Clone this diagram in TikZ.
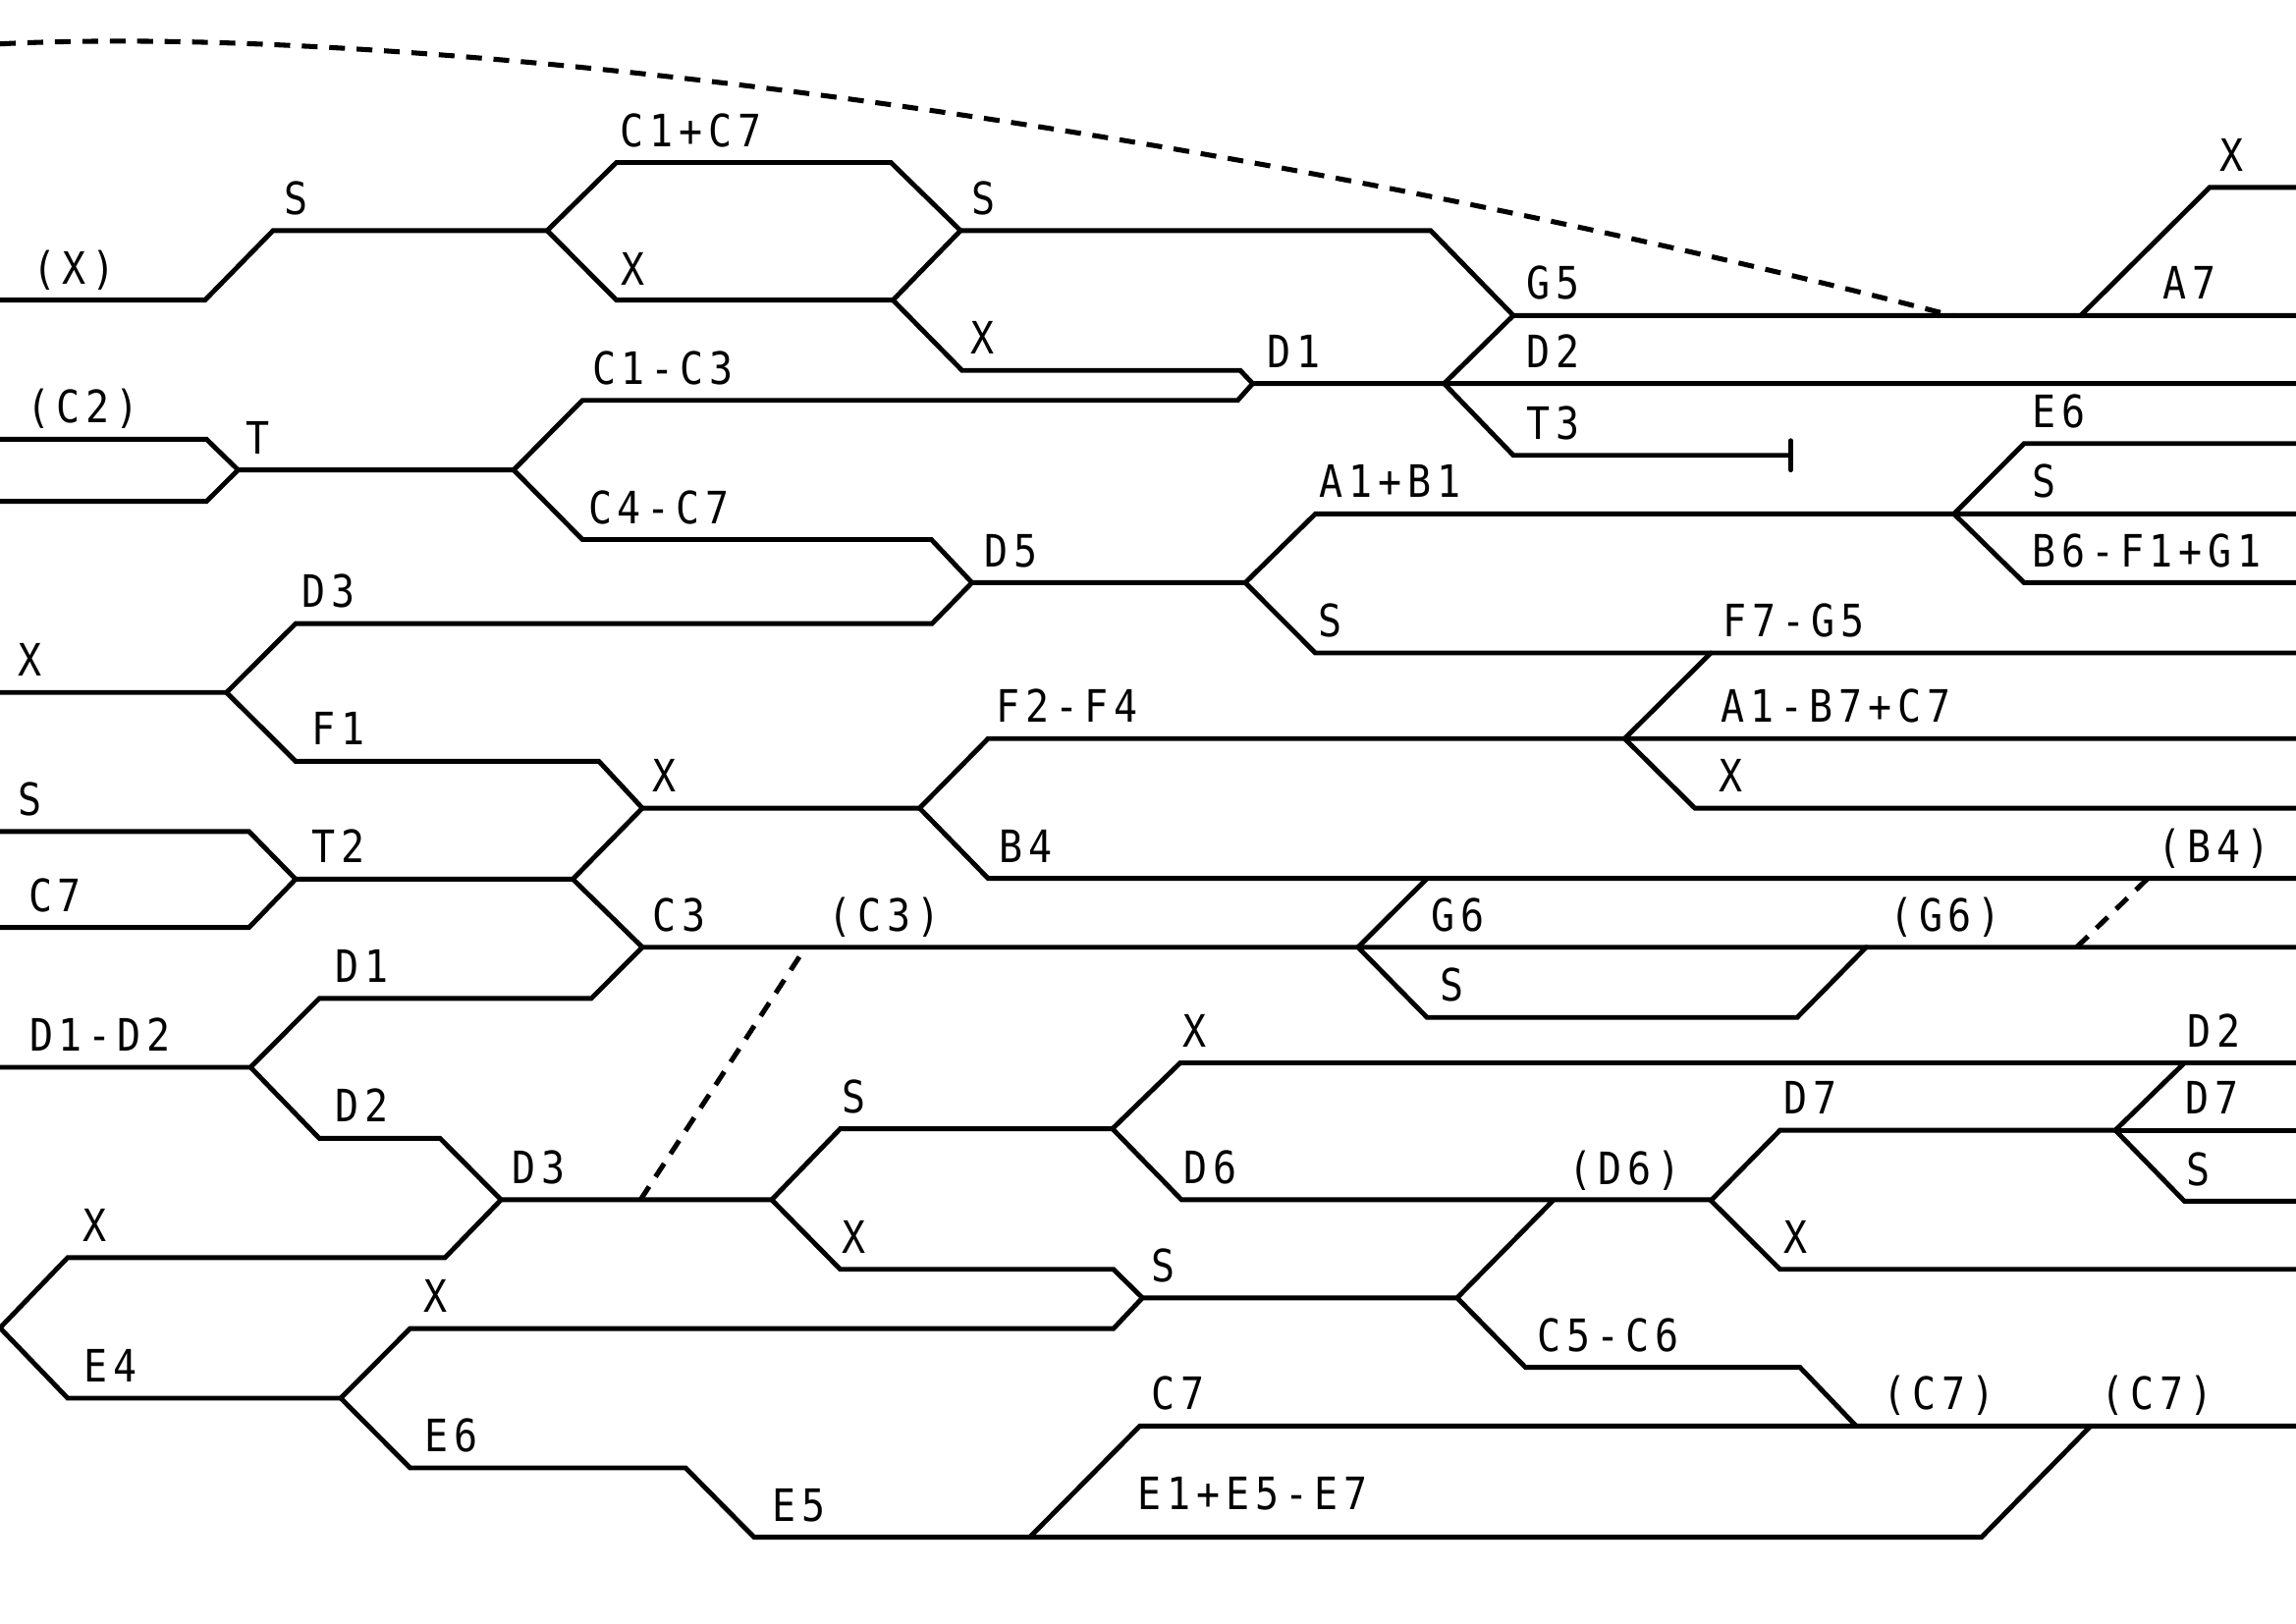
\documentclass[tikz,border=0pt]{standalone}
\usepackage{fontspec}
\usepackage{tikz}
\newfontfamily\trackfont[FakeStretch=0.88,LetterSpace=13]{DejaVu Sans Mono}

\begin{document}
\begin{tikzpicture}[x=0.15mm,y=-0.15mm,
  track/.style={line width=1.4pt,line cap=round},
  link/.style={line width=1.45pt,dash pattern=on 4.6pt off 3.4pt},
  lbl/.style={font=\trackfont\fontsize{13pt}{15pt}\selectfont,anchor=base,inner sep=0pt}]
\useasboundingbox (0,0) rectangle (1568,1109);
\draw[link] (0,30) .. controls (300,15) and (850,90) .. (1333,215.5);
\draw[link] (437.4,819.5) -- (550.2,647);
\draw[link] (1418.2,647) -- (1466.8,600);
\draw[track] (0,205) -- (140,205) -- (186.5,157.5) -- (373.7,157.5);
\draw[track] (373.7,157.5) -- (421,111) -- (608.4,111) -- (656,157.5) -- (609.8,205) -- (421,205) -- cycle;
\draw[track] (656,157.5) -- (977,157.5) -- (1033.5,215.5) -- (1568,215.5);
\draw[track] (609.8,205) -- (657,253) -- (847,253) -- (855.5,262) -- (1568,262);
\draw[track] (855.5,262) -- (845.2,273.5) -- (397.7,273.5) -- (350.8,321) -- (162.6,321);
\draw[track] (986.2,262) -- (1033.5,215.5);
\draw[track] (986.2,262) -- (1033.5,311) -- (1223,311);
\draw[track] (1223,301) -- (1223,321);
\draw[track] (1421,215.5) -- (1509,128) -- (1568,128);
\draw[track] (0,300) -- (141,300) -- (162.6,321) -- (141,342.5) -- (0,342.5);
\draw[track] (350.8,321) -- (397.7,368.5) -- (636,368.5) -- (663.8,398) -- (850.4,398);
\draw[track] (0,473) -- (154.7,473) -- (201.9,426) -- (636.5,426) -- (663.8,398);
\draw[track] (850.4,398) -- (898.3,351) -- (1568,351);
\draw[track] (850.4,398) -- (898.3,446) -- (1568,446);
\draw[track] (1334.4,351) -- (1382.3,303) -- (1568,303);
\draw[track] (1334.4,351) -- (1382.3,398) -- (1568,398);
\draw[track] (154.7,473) -- (201.9,520) -- (409,520) -- (438.7,552) -- (628,552);
\draw[track] (628,552) -- (674.8,504.5) -- (1568,504.5);
\draw[track] (628,552) -- (674.8,600) -- (1568,600);
\draw[track] (1109.5,504.5) -- (1168.4,446);
\draw[track] (1109.5,504.5) -- (1157.4,552) -- (1568,552);
\draw[track] (0,568) -- (170.1,568) -- (201.9,600.5) -- (170.1,633.5) -- (0,633.5);
\draw[track] (201.9,600.5) -- (391.2,600.5) -- (438.7,552);
\draw[track] (391.2,600.5) -- (438.7,647) -- (1568,647);
\draw[track] (927.4,647) -- (974.6,600);
\draw[track] (927.4,647) -- (974.6,695) -- (1227.3,695) -- (1274.5,647);
\draw[track] (438.7,647) -- (403.8,682) -- (218,682) -- (171.1,729) -- (0,729);
\draw[track] (171.1,729) -- (218,777.5) -- (300.5,777.5) -- (342.2,819.5) -- (527,819.5);
\draw[track] (342.2,819.5) -- (303.9,859) -- (46.2,859) -- (0,907) -- (46.2,955) -- (232.7,955);
\draw[track] (232.7,955) -- (280,907.5) -- (760.4,907.5) -- (780.2,886.5) -- (760.4,867) -- (573.8,867) -- (527,819.5);
\draw[track] (527,819.5) -- (573.8,771) -- (759.7,771) -- (806.9,819.5) -- (1168.4,819.5);
\draw[track] (759.7,771) -- (806,726) -- (1568,726);
\draw[track] (780.2,886.5) -- (995.1,886.5) -- (1060.6,820);
\draw[track] (995.1,886.5) -- (1041.8,934) -- (1229.3,934) -- (1267.6,974);
\draw[track] (232.7,955) -- (280,1002.6) -- (468.2,1002.6) -- (515,1050) -- (1353.2,1050) -- (1427.8,974);
\draw[track] (703.2,1050) -- (778.5,974) -- (1568,974);
\draw[track] (1168.4,820) -- (1215.6,772) -- (1444.6,772) -- (1491.8,726);
\draw[track] (1444.6,772) -- (1568,772);
\draw[track] (1444.6,772) -- (1491.8,820.5) -- (1568,820.5);
\draw[track] (1168.4,820) -- (1215.6,867) -- (1568,867);
\node[lbl] (px1) at (50.6,194) {(X)};
\node[lbl] (s1) at (202,146.5) {S};
\node[lbl] (c1c7) at (472,100) {C1+C7};
\node[lbl] (x1) at (432,194.5) {X};
\node[lbl] (pc2) at (56.5,289) {(C2)};
\node[lbl] (t1) at (176,310) {T};
\node[lbl] (c1c3) at (452.7,262.5) {C1-C3};
\node[lbl] (c4c7) at (450,357.5) {C4-C7};
\node[lbl] (s2) at (672,146.5) {S};
\node[lbl] (x2) at (670.7,242) {X};
\node[lbl] (d1a) at (883.6,251) {D1};
\node[lbl] (a1b1) at (949.6,340) {A1+B1};
\node[lbl] (d5) at (690.5,387) {D5};
\node[lbl] (x3) at (1524.3,117) {X};
\node[lbl] (g5) at (1060.6,204.5) {G5};
\node[lbl] (a7) at (1495.2,204.5) {A7};
\node[lbl] (d2a) at (1060.6,251) {D2};
\node[lbl] (t3) at (1060.6,300) {T3};
\node[lbl] (e6a) at (1406.2,292) {E6};
\node[lbl] (s3) at (1396,340) {S};
\node[lbl] (d3a) at (224.2,415) {D3};
\node[lbl] (x4) at (20.5,462) {X};
\node[lbl] (f1) at (231,509) {F1};
\node[lbl] (x5) at (453.5,541) {X};
\node[lbl] (s4) at (20.5,557) {S};
\node[lbl] (t2) at (231,589.5) {T2};
\node[lbl] (c7a) at (37.6,622.5) {C7};
\node[lbl] (c3) at (463.7,636) {C3};
\node[lbl] (d1b) at (247.1,671) {D1};
\node[lbl] (d1d2) at (68.4,718) {D1-D2};
\node[lbl] (s5) at (908.5,435) {S};
\node[lbl] (f2f4) at (728.9,493.5) {F2-F4};
\node[lbl] (b4) at (700.8,589) {B4};
\node[lbl] (pc3) at (604,636) {(C3)};
\node[lbl] (g6) at (995.8,636) {G6};
\node[lbl] (s6) at (991.7,684) {S};
\node[lbl] (x6) at (816.1,715) {X};
\node[lbl] (b6f1) at (1466.1,387) {B6-F1+G1};
\node[lbl] (f7g5) at (1224.9,435) {F7-G5};
\node[lbl] (a1b7) at (1253.9,493.5) {A1-B7+C7};
\node[lbl] (x7) at (1182.1,541) {X};
\node[lbl] (pb4) at (1512.3,589) {(B4)};
\node[lbl] (pg6) at (1328.6,636) {(G6)};
\node[lbl] (d2b) at (1512.3,715) {D2};
\node[lbl] (d2c) at (247.1,766.5) {D2};
\node[lbl] (d3b) at (367.9,808.5) {D3};
\node[lbl] (x8) at (65,848) {X};
\node[lbl] (x9) at (297.7,896) {X};
\node[lbl] (e4) at (75.3,944) {E4};
\node[lbl] (e6b) at (308,991.6) {E6};
\node[lbl] (e5) at (545.8,1039) {E5};
\node[lbl] (s7) at (583.4,760) {S};
\node[lbl] (d6) at (826.4,808.5) {D6};
\node[lbl] (x10) at (583.4,856) {X};
\node[lbl] (s8) at (794.6,875.5) {S};
\node[lbl] (c7b) at (804.2,963) {C7};
\node[lbl] (e1e7) at (855.5,1031) {E1+E5-E7};
\node[lbl] (d7a) at (1236.2,761) {D7};
\node[lbl] (d7b) at (1510.6,761) {D7};
\node[lbl] (pd6) at (1109.5,809) {(D6)};
\node[lbl] (s9) at (1501,809.5) {S};
\node[lbl] (x11) at (1226.6,856) {X};
\node[lbl] (c5c6) at (1098.2,923) {C5-C6};
\node[lbl] (pc7a) at (1324.1,963) {(C7)};
\node[lbl] (pc7b) at (1473,963) {(C7)};
\end{tikzpicture}
\end{document}
